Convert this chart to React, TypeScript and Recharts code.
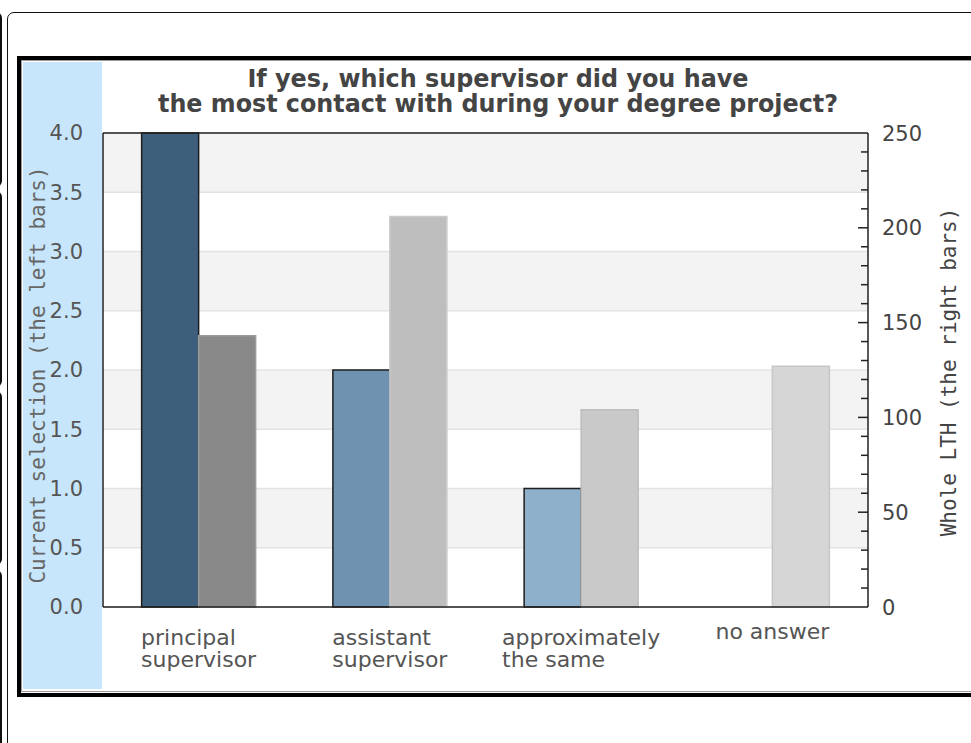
import React from "react";
import { BarChart, Bar, XAxis, YAxis, CartesianGrid, Cell, ReferenceLine } from "recharts";

// answers (two-line labels split with \n)
const categories = ["principal\nsupervisor", "assistant\nsupervisor", "approximately\nthe same", "no answer"];
const currentSelection = [4, 2, 1, 0];
const wholeLth = [143, 206, 104, 127];

const leftTicks = [0, 0.5, 1, 1.5, 2, 2.5, 3, 3.5, 4];
const rightTicks = [0, 10, 20, 30, 40, 50, 60, 70, 80, 90, 100, 110, 120, 130, 140, 150, 160, 170, 180, 190, 200, 210, 220, 230, 240, 250];

const titleLines = ["If yes, which supervisor did you have", "the most contact with during your degree project?"];
const leftTitle = "Current selection (the left bars)";
const rightTitle = "Whole LTH (the right bars)";

const leftColors = ["#3d5f7b", "#6e92b0", "#8fb0cb", "#a9c4da"];
const rightColors = ["#898989", "#bebebe", "#c9c9c9", "#d6d6d6"];
const rightStrokes = ["#9c9c9c", "#cbcbcb", "#bdbdbd", "#c6c6c6"];

const data = categories.map((name, i) => ({
  name,
  current: currentSelection[i],
  whole: wholeLth[i],
}));

const W = 971;
const H = 743;
const LABEL_FONT = "22px 'DejaVu Sans'";

let ctx: CanvasRenderingContext2D | null = null;
function textWidth(t: string, font: string) {
  if (!ctx) ctx = document.createElement("canvas").getContext("2d");
  if (!ctx) return t.length * 12;
  ctx.font = font;
  return ctx.measureText(t).width;
}

function CategoryTick(props: any) {
  const { x, y, payload } = props;
  const lines = String(payload.value).split("\n");
  const w = Math.max(...lines.map((l) => textWidth(l, LABEL_FONT)));
  const first = lines.length === 1 ? 32 : 38;
  return (
    <text x={x - w / 2} y={y + first} textAnchor="start" fill="#555" fontSize={22} fontFamily="DejaVu Sans">
      {lines.map((l, i) => (
        <tspan key={i} x={x - w / 2} dy={i === 0 ? 0 : 22}>
          {l}
        </tspan>
      ))}
    </text>
  );
}

function RightTick(props: any) {
  const { x, y, payload } = props;
  const v = payload.value;
  const major = v % 50 === 0;
  return (
    <g>
      {v > 0 && v < 250 && (
        <line x1={x - (major ? 10 : 7)} x2={x} y1={y} y2={y} stroke="#222" strokeWidth={1.5} />
      )}
      {major && (
        <text x={x + 14} y={y} dy="0.36em" fill="#444" fontSize={21} fontFamily="DejaVu Sans">
          {v}
        </text>
      )}
    </g>
  );
}

export default function App() {
  return (
    <div style={{ position: "absolute", left: 0, top: 0, width: W, height: H, overflow: "hidden", background: "#fff" }}>
      {/* neighbouring boxes peeking in at the left edge */}
      {[
        [12, 187],
        [191, 387],
        [391, 565],
        [570, 780],
      ].map(([a, b], i) => (
        <div
          key={i}
          style={{
            position: "absolute",
            left: -30,
            top: a,
            width: 32,
            height: b - a,
            boxSizing: "border-box",
            border: "2px solid #111",
            borderRadius: 6,
          }}
        />
      ))}
      <div
        style={{
          position: "absolute",
          left: 7,
          top: 12,
          width: 1000,
          height: 800,
          boxSizing: "border-box",
          border: "1.5px solid #111",
          borderRadius: 7,
        }}
      />
      <div
        style={{
          position: "absolute",
          left: 17,
          top: 56,
          width: 1000,
          height: 641,
          boxSizing: "border-box",
          border: "4px solid #000",
        }}
      />
      <div
        style={{
          position: "absolute",
          left: 21,
          top: 60,
          width: 1000,
          height: 632,
          boxSizing: "border-box",
          border: "1px solid #9a9a9a",
        }}
      />
      <div style={{ position: "absolute", left: 23, top: 62, width: 79, height: 627, background: "#c7e6fb" }} />

      <div style={{ position: "absolute", left: 0, top: 0 }}>
        <BarChart
          width={W}
          height={H}
          data={data}
          margin={{ top: 133, right: 23, bottom: 56, left: 23 }}
          barGap={0}
          barCategoryGap="20.2%"
        >
          <CartesianGrid
            yAxisId="left"
            vertical={false}
            stroke="#e3e3e3"
            strokeWidth={1.5}
            horizontalFill={["#f3f3f3", "#ffffff"]}
          />
          <XAxis
            dataKey="name"
            height={80}
            interval={0}
            tickLine={false}
            tickSize={0}
            tickMargin={0}
            axisLine={{ stroke: "#222", strokeWidth: 1.5 }}
            tick={<CategoryTick />}
          />
          <YAxis
            yAxisId="left"
            width={80}
            domain={[0, 4]}
            ticks={leftTicks}
            interval={0}
            tickLine={false}
            tickSize={0}
            tickMargin={20}
            tickFormatter={(v: number) => v.toFixed(1)}
            axisLine={{ stroke: "#222", strokeWidth: 1.5 }}
            tick={{ fill: "#555", fontSize: 21, fontFamily: "DejaVu Sans" }}
          />
          <YAxis
            yAxisId="right"
            orientation="right"
            width={80}
            domain={[0, 250]}
            ticks={rightTicks}
            interval={0}
            tickLine={false}
            tickSize={0}
            tickMargin={0}
            axisLine={{ stroke: "#222", strokeWidth: 1.5 }}
            tick={<RightTick />}
          />
          <ReferenceLine yAxisId="left" y={4} stroke="#222" strokeWidth={1.5} />
          <Bar yAxisId="left" dataKey="current" stroke="#1e1e1e" strokeWidth={1.5} isAnimationActive={false}>
            {data.map((_, i) => (
              <Cell key={i} fill={leftColors[i]} />
            ))}
          </Bar>
          <Bar yAxisId="right" dataKey="whole" strokeWidth={1.5} isAnimationActive={false}>
            {data.map((_, i) => (
              <Cell key={i} fill={rightColors[i]} stroke={rightStrokes[i]} />
            ))}
          </Bar>
        </BarChart>
      </div>

      <svg width={W} height={H} style={{ position: "absolute", left: 0, top: 0, pointerEvents: "none" }}>
        <text
          textAnchor="middle"
          fill="#444"
          fontSize={25}
          fontWeight="bold"
          fontFamily="DejaVu Sans Condensed, DejaVu Sans"
          style={{ fontStretch: "condensed" }}
        >
          {titleLines.map((t, i) => (
            <tspan key={i} x={498} y={87 + i * 25} textLength={i === 0 ? 501 : 680} lengthAdjust="spacingAndGlyphs">
              {t}
            </tspan>
          ))}
        </text>
        <text
          transform="translate(37 375) rotate(-90)"
          textAnchor="middle"
          dy="0.36em"
          fill="#666"
          fontSize={21}
          fontFamily="DejaVu Sans Mono"
        >
          {leftTitle}
        </text>
        <text
          transform="translate(948 372) rotate(-90)"
          textAnchor="middle"
          dy="0.36em"
          fill="#444"
          fontSize={21}
          fontFamily="DejaVu Sans Mono"
        >
          {rightTitle}
        </text>
      </svg>
    </div>
  );
}
